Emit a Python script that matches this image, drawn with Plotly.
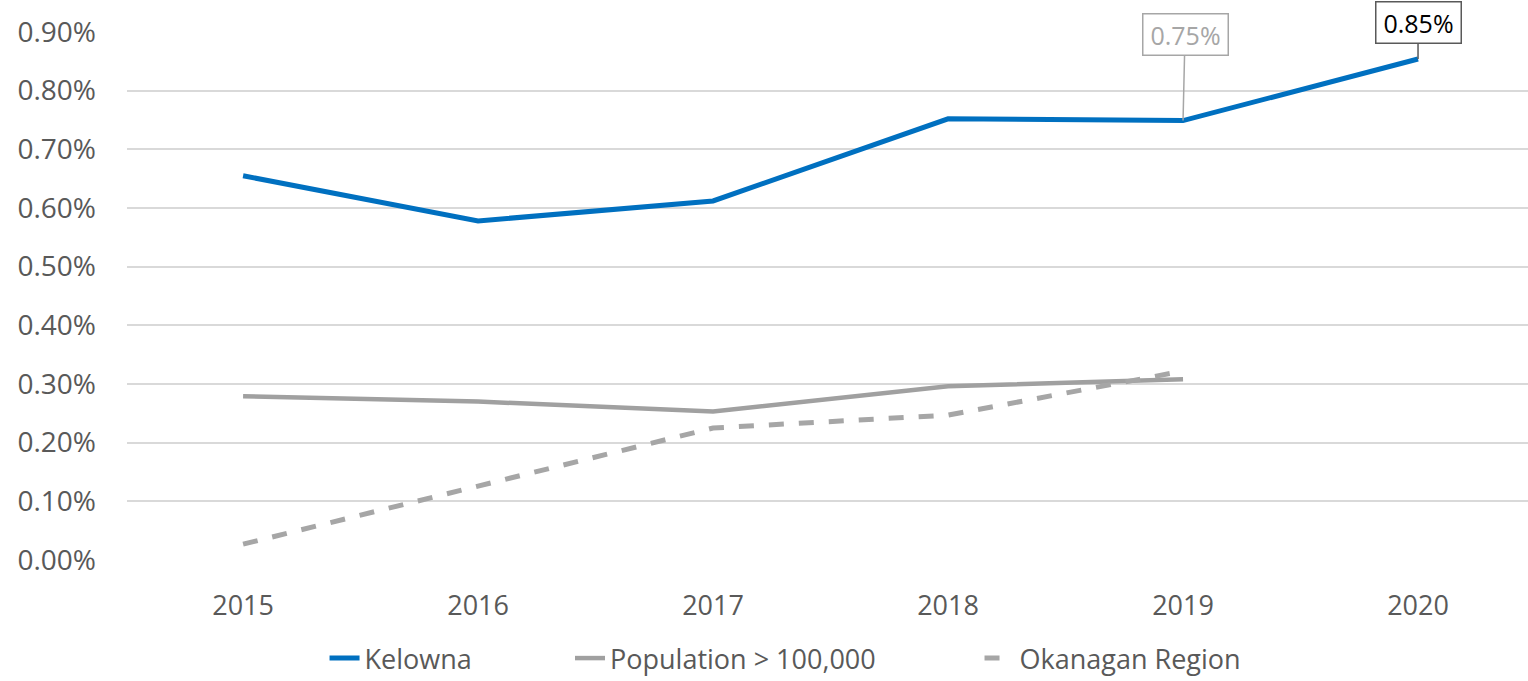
import plotly.graph_objects as go

years = ["2015", "2016", "2017", "2018", "2019", "2020"]
kelowna = [0.655, 0.578, 0.612, 0.752, 0.749, 0.854]
population = [0.279, 0.270, 0.253, 0.296, 0.308]
okanagan = [0.027, 0.126, 0.225, 0.247, 0.322]
y_ticks = [0.0, 0.1, 0.2, 0.3, 0.4, 0.5, 0.6, 0.7, 0.8, 0.9]
y_tick_text = [f"{v:.2f}%" for v in y_ticks]

FONT = "Open Sans"
fig = go.Figure()
fig.add_trace(go.Scatter(x=years, y=kelowna, mode="lines", name="Kelowna",
                         line=dict(color="#0070c0", width=5), legend="legend"))
fig.add_trace(go.Scatter(x=years[:5], y=population, mode="lines", name="Population > 100,000",
                         line=dict(color="#a0a0a0", width=4.5), legend="legend2"))
fig.add_trace(go.Scatter(x=years[:5], y=okanagan, mode="lines", name="Okanagan Region",
                         line=dict(color="#a6a6a6", width=5, dash="dash"), legend="legend3"))

i19 = years.index("2019")
i20 = years.index("2020")
annotations = [
    dict(x=i19, y=kelowna[i19], xref="x", yref="y", text=f"{kelowna[i19]:.2f}%",
         showarrow=True, arrowhead=0, arrowwidth=1.5, arrowcolor="#a6a6a6",
         ax=2, ay=-86, bordercolor="#a6a6a6", borderwidth=1.5, borderpad=4,
         width=76, height=32,
         bgcolor="white", font=dict(family=FONT, size=25, color="#a6a6a6")),
    dict(x=i20, y=kelowna[i20], xref="x", yref="y", text=f"{kelowna[i20]:.2f}%",
         showarrow=True, arrowhead=0, arrowwidth=1.5, arrowcolor="#595959",
         ax=0, ay=-36, bordercolor="#595959", borderwidth=1.5, borderpad=4,
         width=76, height=32,
         bgcolor="white", font=dict(family=FONT, size=25, color="#000000")),
]

legend_font = dict(family=FONT, size=27, color="#595959")
def leg(xc):
    return dict(orientation="h", x=xc, xanchor="center", y=-0.233, yanchor="bottom",
                font=legend_font, bgcolor="rgba(0,0,0,0)")

fig.update_layout(
    width=1528, height=681,
    margin=dict(l=127, r=0, t=32, b=121, autoexpand=False),
    paper_bgcolor="white", plot_bgcolor="white",
    font=dict(family=FONT, color="#595959", size=24),
    showlegend=True,
    annotations=annotations,
    legend=leg(0.1956),
    legend2=leg(0.4272),
    legend3=leg(0.7038),
    xaxis=dict(type="category", range=[-0.494, 5.468], showgrid=False, showline=False,
               zeroline=False, ticks="", ticklabelstandoff=27, automargin=False,
               tickfont=dict(family=FONT, size=27, color="#595959")),
    yaxis=dict(range=[0, 0.9], tickmode="array", tickvals=y_ticks, ticktext=y_tick_text,
               showgrid=True, gridcolor="#d9d9d9", gridwidth=1.5, zeroline=False,
               showline=False, ticks="", ticklabelstandoff=30, automargin=False,
               tickfont=dict(family=FONT, size=28, color="#595959")),
)
fig.write_html("out.html")
